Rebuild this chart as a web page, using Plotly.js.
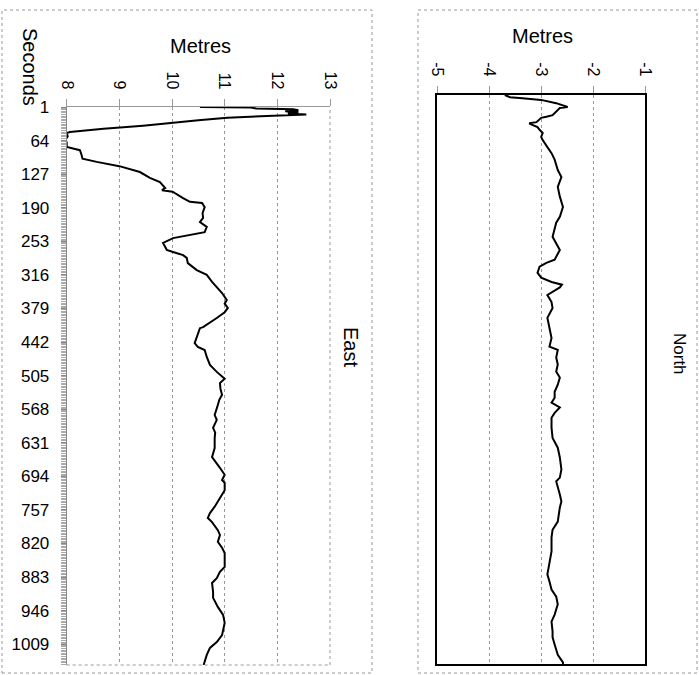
<!DOCTYPE html>
<html>
<head>
<meta charset="utf-8">
<script src="https://cdn.plot.ly/plotly-3.0.1.min.js"></script>
<style>html,body{margin:0;padding:0;background:#fff;}#chart{width:699px;height:675px;}</style>
</head>
<body>
<div id="chart"></div>
<script>
// ---- Data ----
var secondsTickVals = [1, 64, 127, 190, 253, 316, 379, 442, 505, 568, 631, 694, 757, 820, 883, 946, 1009];
var secondsTickText = ["1", "64", "127", "190", "253", "316", "379", "442", "505", "568", "631", "694", "757", "820", "883", "946", "1009"];
var eastTickVals = [8, 9, 10, 11, 12, 13];
var eastTickText = ["8", "9", "10", "11", "12", "13"];
var northTickVals = [-5, -4, -3, -2, -1];
var northTickText = ["-5", "-4", "-3", "-2", "-1"];

var eastSeconds = [1, 2, 4, 5, 7, 9, 11, 13, 15, 17, 21, 26, 31, 36, 42, 48, 50, 56, 62, 68, 76, 82, 90, 95, 98, 104, 112, 123, 134, 142, 153, 157, 160, 172, 179, 181, 189, 200, 209, 217, 226, 236, 241, 247, 256, 264, 269, 273, 279, 284, 294, 307, 316, 329, 341, 350, 363, 370, 378, 386, 397, 414, 416, 429, 444, 451, 457, 470, 485, 498, 511, 519, 530, 541, 550, 560, 570, 579, 588, 603, 612, 622, 641, 658, 678, 691, 701, 706, 720, 735, 751, 763, 772, 780, 795, 804, 817, 828, 838, 864, 873, 885, 894, 911, 922, 939, 954, 969, 982, 992, 1005, 1016, 1029, 1044, 1048];
var eastMetres = [10.53, 11.50, 11.60, 12.30, 12.40, 12.15, 12.40, 12.20, 12.55, 12.00, 11.05, 10.50, 10.02, 9.45, 8.70, 8.06, 8.00, 8.02, 7.98, 8.00, 8.00, 8.25, 8.28, 8.30, 8.30, 8.57, 9.00, 9.39, 9.58, 9.77, 9.87, 9.81, 10.01, 10.21, 10.34, 10.57, 10.62, 10.58, 10.59, 10.53, 10.66, 10.62, 10.34, 10.02, 9.83, 9.87, 9.90, 10.02, 10.21, 10.28, 10.30, 10.47, 10.66, 10.76, 10.87, 10.95, 11.04, 11.00, 11.06, 11.00, 10.85, 10.59, 10.53, 10.49, 10.43, 10.49, 10.62, 10.66, 10.72, 10.85, 11.00, 10.91, 10.92, 10.95, 10.90, 10.87, 10.84, 10.81, 10.85, 10.78, 10.82, 10.81, 10.81, 10.76, 10.91, 11.00, 10.95, 11.00, 11.00, 10.91, 10.81, 10.72, 10.68, 10.76, 10.87, 10.91, 10.87, 10.95, 11.00, 11.00, 10.91, 10.85, 10.76, 10.78, 10.78, 10.87, 10.97, 11.00, 10.97, 10.95, 10.85, 10.72, 10.66, 10.62, 10.60];

var northSeconds = [1, 3, 5, 7, 10, 16, 19, 23, 25, 32, 38, 41, 43, 51, 53, 56, 60, 65, 71, 78, 84, 97, 108, 120, 139, 152, 170, 188, 207, 225, 236, 262, 273, 286, 304, 310, 317, 328, 337, 345, 350, 355, 359, 369, 382, 393, 411, 429, 448, 464, 470, 484, 497, 510, 521, 534, 547, 558, 567, 576, 586, 595, 613, 632, 650, 668, 690, 705, 712, 736, 749, 760, 786, 801, 815, 841, 859, 883, 896, 911, 924, 938, 957, 970, 988, 999, 1012, 1031, 1045, 1048];
var northMetres = [-3.70, -3.65, -3.60, -3.36, -3.00, -2.71, -2.61, -2.49, -2.64, -2.71, -2.78, -2.90, -3.00, -3.09, -3.23, -3.17, -3.07, -3.03, -2.97, -3.00, -2.97, -2.88, -2.80, -2.74, -2.68, -2.61, -2.68, -2.64, -2.58, -2.64, -2.71, -2.78, -2.71, -2.64, -2.74, -2.90, -3.03, -3.07, -3.00, -2.80, -2.60, -2.64, -2.71, -2.88, -2.80, -2.78, -2.88, -2.84, -2.80, -2.84, -2.68, -2.71, -2.68, -2.71, -2.64, -2.68, -2.74, -2.74, -2.80, -2.64, -2.74, -2.80, -2.80, -2.78, -2.68, -2.64, -2.61, -2.64, -2.71, -2.64, -2.61, -2.64, -2.68, -2.78, -2.80, -2.80, -2.84, -2.88, -2.84, -2.80, -2.71, -2.68, -2.74, -2.80, -2.78, -2.78, -2.74, -2.68, -2.58, -2.58];

var secondsRange = [1, 1048];

// ---- Layout helpers (pixel -> paper, margins are zero) ----
var W = 699, H = 675;
function px(x) { return x / W; }
function py(y) { return 1 - y / H; }

var FONT = "Liberation Sans, Arial, sans-serif";

var traces = [
  {x: eastMetres, y: eastSeconds, xaxis: 'x', yaxis: 'y', type: 'scatter', mode: 'lines',
   line: {color: '#000', width: 2}, name: 'East', hoverinfo: 'x+y'},
  {x: northMetres, y: northSeconds, xaxis: 'x2', yaxis: 'y2', type: 'scatter', mode: 'lines',
   line: {color: '#000', width: 2}, name: 'North', hoverinfo: 'x+y'}
];

var dottedGrid = {color: '#999', width: 1, dash: 'dot'};

var layout = {
  width: W, height: H,
  margin: {l: 0, r: 0, t: 0, b: 0, pad: 0},
  paper_bgcolor: '#fff', plot_bgcolor: '#fff',
  showlegend: false,
  font: {family: FONT, color: '#000'},
  xaxis: {
    domain: [px(66.7), px(330)], anchor: 'y', side: 'top',
    range: [8, 13], tickvals: eastTickVals, ticktext: eastTickText,
    tickangle: 90, tickfont: {family: FONT, size: 16, color: '#000'},
    ticks: 'outside', ticklen: 7, tickcolor: '#999', ticklabelstandoff: 4,
    showgrid: true, gridcolor: '#999', griddash: 'dot', gridwidth: 1,
    showline: true, linecolor: '#999', linewidth: 1, zeroline: false, fixedrange: true
  },
  yaxis: {
    domain: [py(665), py(107)], anchor: 'x',
    range: [secondsRange[1], secondsRange[0]],
    tickvals: secondsTickVals, ticktext: secondsTickText,
    tickfont: {family: FONT, size: 17, color: '#000'},
    ticks: 'outside', ticklen: 5, tickcolor: '#888', ticklabelstandoff: 8,
    minor: {ticks: 'outside', dtick: 3, ticklen: 5, tickcolor: '#aaa', tickwidth: 1, showgrid: false},
    showgrid: false, showline: true, linecolor: '#888', linewidth: 1, zeroline: false, fixedrange: true
  },
  xaxis2: {
    domain: [px(437.3), px(645)], anchor: 'y2', side: 'top',
    range: [-5, -1], tickvals: northTickVals, ticktext: northTickText,
    tickangle: 90, tickfont: {family: FONT, size: 16, color: '#000'},
    ticks: 'outside', ticklen: 7, tickcolor: '#999', ticklabelstandoff: 4,
    showgrid: true, gridcolor: '#999', griddash: 'dot', gridwidth: 1,
    showline: true, mirror: true, linecolor: '#000', linewidth: 2, zeroline: false, fixedrange: true
  },
  yaxis2: {
    domain: [py(664), py(95)], anchor: 'x2',
    range: [secondsRange[1], secondsRange[0]],
    showticklabels: false, ticks: '', showgrid: false,
    showline: true, mirror: true, linecolor: '#000', linewidth: 2, zeroline: false, fixedrange: true
  },
  shapes: [
    {type: 'rect', xref: 'paper', yref: 'paper', x0: px(2), x1: px(372), y0: py(673), y1: py(10),
     line: {color: '#999', width: 1, dash: 'dot'}},
    {type: 'rect', xref: 'paper', yref: 'paper', x0: px(418), x1: px(697), y0: py(673), y1: py(10),
     line: {color: '#999', width: 1, dash: 'dot'}},
    {type: 'line', xref: 'x domain', yref: 'y domain', x0: 1, x1: 1, y0: 0, y1: 1, line: dottedGrid},
    {type: 'line', xref: 'x domain', yref: 'y domain', x0: 0, x1: 1, y0: 0, y1: 0, line: dottedGrid}
  ],
  annotations: [
    {text: 'Metres', xref: 'paper', yref: 'paper', x: px(200), y: py(46), showarrow: false,
     font: {family: FONT, size: 20, color: '#000'}, xanchor: 'center', yanchor: 'middle'},
    {text: 'Seconds', xref: 'paper', yref: 'paper', x: px(30), y: py(67), showarrow: false, textangle: 90,
     font: {family: FONT, size: 20, color: '#000'}, xanchor: 'center', yanchor: 'middle'},
    {text: 'East', xref: 'paper', yref: 'paper', x: px(351), y: py(347), showarrow: false, textangle: 90,
     font: {family: FONT, size: 20, color: '#000'}, xanchor: 'center', yanchor: 'middle'},
    {text: 'Metres', xref: 'paper', yref: 'paper', x: px(542), y: py(36), showarrow: false,
     font: {family: FONT, size: 20, color: '#000'}, xanchor: 'center', yanchor: 'middle'},
    {text: 'North', xref: 'paper', yref: 'paper', x: px(680), y: py(354), showarrow: false, textangle: 90,
     font: {family: FONT, size: 17, color: '#000'}, xanchor: 'center', yanchor: 'middle'}
  ]
};

Plotly.newPlot('chart', traces, layout, {displayModeBar: false, staticPlot: true});
</script>
</body>
</html>
